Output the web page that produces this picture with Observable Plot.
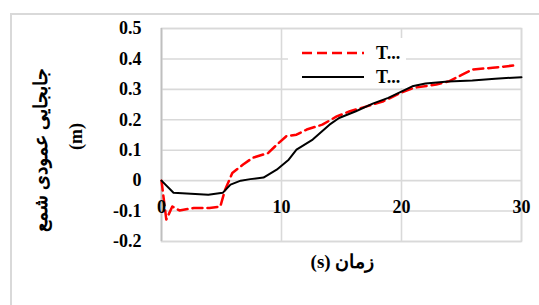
<!DOCTYPE html>
<html>
<head>
<meta charset="utf-8">
<script src="https://cdn.jsdelivr.net/npm/d3@7"></script>
<script src="https://cdn.jsdelivr.net/npm/@observablehq/plot@0.6"></script>
<style>
  html, body { margin: 0; padding: 0; background: #fff; }
  #wrap { position: relative; width: 539px; height: 305px; overflow: hidden; }
  #outer { position: absolute; left: 10px; top: 13px; width: 600px; height: 400px; border: 2px solid #d9d9d9; box-sizing: border-box; }
  #legend { position: absolute; left: 288px; top: 38px; width: 118px; height: 50px; background: #fff;
            font-family: "Liberation Serif", serif; font-weight: bold; font-size: 18px; color: #000; }
  #legend .row { position: absolute; left: 14px; height: 22px; display: flex; align-items: center; }
  #legend svg { width: 66px; height: 6px; margin-right: 8px; }
  #chart { position: absolute; left: 0; top: 0; }
</style>
</head>
<body>
<div id="wrap">
  <div id="outer"></div>
  <div id="chart"></div>
  <div id="legend"></div>
</div>
<script>
// ---- data ----
const seriesNames = ["T...", "T..."];
const tRed = [0, 0.4, 0.9, 1.5, 2.7, 4.0, 4.9, 5.3, 5.9, 6.8, 7.6, 8.9, 9.6, 10.4, 11.25, 12.1, 13.4, 14.6, 15.7, 17.1, 18.5, 19.9, 21.0, 22.9, 24.0, 25.1, 25.9, 27.6, 29.5];
const vRed = [0, -0.128, -0.085, -0.098, -0.09, -0.09, -0.085, -0.03, 0.025, 0.053, 0.075, 0.091, 0.118, 0.146, 0.151, 0.168, 0.184, 0.211, 0.228, 0.244, 0.261, 0.288, 0.305, 0.316, 0.327, 0.349, 0.365, 0.371, 0.379];
const tBlack = [0, 1.0, 3.9, 5.1, 5.75, 6.6, 7.4, 8.5, 9.6, 10.6, 11.25, 12.6, 14.0, 14.8, 16.2, 17.6, 18.9, 20.9, 22.0, 23.9, 25.9, 27.8, 30];
const vBlack = [0, -0.04, -0.046, -0.04, -0.013, 0.0, 0.005, 0.01, 0.036, 0.069, 0.102, 0.135, 0.184, 0.206, 0.228, 0.253, 0.272, 0.31, 0.319, 0.326, 0.329, 0.335, 0.34];
const xTicks = [0, 10, 20, 30];
const yTicks = [-0.2, -0.1, 0, 0.1, 0.2, 0.3, 0.4, 0.5];
const xTitle = "زمان (s)";
const yTitleLine1 = "جابجایی عمودی شمع";
const yTitleLine2 = "(m)";

const red = tRed.map((t, i) => ({t, v: vRed[i]}));
const black = tBlack.map((t, i) => ({t, v: vBlack[i]}));

const font = "Liberation Serif, DejaVu Serif, serif";

const plot = Plot.plot({
  width: 539,
  height: 305,
  marginLeft: 161,
  marginRight: 18,
  marginTop: 28,
  marginBottom: 64,
  style: {fontFamily: font, background: "transparent", overflow: "visible"},
  x: {domain: [0, 30], axis: null},
  y: {domain: [-0.2, 0.5], axis: null},
  marks: [
    Plot.gridX(xTicks, {stroke: "#d9d9d9", strokeOpacity: 1, strokeWidth: 1.6}),
    Plot.gridY(yTicks, {stroke: "#d9d9d9", strokeOpacity: 1, strokeWidth: 1.6}),
    Plot.frame({stroke: "#d9d9d9", strokeWidth: 1.6}),
    Plot.ruleX([0], {stroke: "#bfbfbf", strokeWidth: 1.6}),
    Plot.axisY(yTicks, {tickSize: 0, tickPadding: 20, fontSize: 18, fontWeight: "bold", tickFormat: d => String(d), fill: "#000", label: null}),
    Plot.line(red, {x: "t", y: "v", stroke: "#ff0000", strokeWidth: 2.5, strokeDasharray: "10,5"}),
    Plot.line(black, {x: "t", y: "v", stroke: "#000", strokeWidth: 2}),
    Plot.text(xTicks, {x: d => d, y: 0, dy: 27, text: d => String(d), fontSize: 18, fontWeight: "bold", fill: "#000"}),
    Plot.text([xTitle], {frameAnchor: "bottom", dx: 1, dy: 26, text: d => d, fontSize: 19, fontWeight: "bold", fill: "#000"}),
    Plot.text([yTitleLine1], {frameAnchor: "left", dx: -121, dy: 15, rotate: -90, text: d => d, fontSize: 19, fontWeight: "bold", fill: "#000"}),
    Plot.text([yTitleLine2], {frameAnchor: "left", dx: -85, dy: 15, rotate: -90, text: d => d, fontSize: 18, fontWeight: "bold", fill: "#000"})
  ]
});
d3.select(plot).selectAll("text").filter(function() { return this.textContent === xTitle; })
  .attr("direction", "rtl").style("direction", "rtl").style("unicode-bidi", "embed");
document.getElementById("chart").appendChild(plot);

// re-center the rotated Persian title (bidi text anchoring in rotated SVG text)
d3.select(plot).selectAll("text").filter(function() { return this.textContent === yTitleLine1; })
  .each(function() {
    const b = this.getBBox();
    const x0 = +(this.getAttribute("x") || 0);
    this.setAttribute("x", x0 - (b.x + b.width / 2));
  });

// legend
const leg = d3.select("#legend");
const rows = [
  {name: seriesNames[0], stroke: "#ff0000", dash: "10,5", w: 2.5, top: 4},
  {name: seriesNames[1], stroke: "#000", dash: null, w: 2, top: 28}
];
rows.forEach(r => {
  const row = leg.append("div").attr("class", "row").style("top", r.top + "px");
  const s = row.append("svg").attr("viewBox", "0 0 66 6");
  s.append("line").attr("x1", 0).attr("x2", 62).attr("y1", 3).attr("y2", 3)
    .attr("stroke", r.stroke).attr("stroke-width", r.w).attr("stroke-dasharray", r.dash);
  row.append("span").text(r.name);
});
</script>
</body>
</html>
